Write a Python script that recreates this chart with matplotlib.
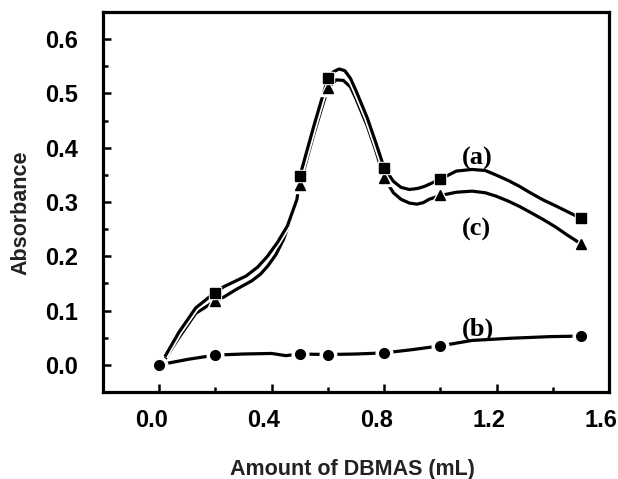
import matplotlib
matplotlib.use("Agg")
import matplotlib.pyplot as plt
import matplotlib.patheffects as pe
from matplotlib.ticker import MultipleLocator, FixedLocator
from matplotlib.transforms import ScaledTranslation

# Measured data points (amount of DBMAS, mL)
amount = [0.0, 0.2, 0.5, 0.6, 0.8, 1.0, 1.5]
abs_a = [0.0, 0.132, 0.348, 0.528, 0.363, 0.342, 0.270]
abs_b = [0.0, 0.018, 0.020, 0.019, 0.022, 0.035, 0.053]
abs_c = [0.0, 0.118, 0.332, 0.510, 0.345, 0.312, 0.223]

# Smoothed curves as drawn in the figure
curve_a_x = [0.02, 0.07, 0.13, 0.2, 0.23, 0.27, 0.31, 0.35, 0.385, 0.42, 0.456, 0.49, 0.5, 0.55, 0.6,
             0.62, 0.64, 0.66, 0.68, 0.7, 0.74, 0.77, 0.8, 0.833, 0.86, 0.89, 0.92, 0.945, 1.0, 1.057,
             1.113, 1.16, 1.197, 1.24, 1.281, 1.32, 1.365, 1.41, 1.449, 1.5]
curve_a_y = [0.015, 0.06, 0.105, 0.134, 0.144, 0.154, 0.164, 0.18, 0.2, 0.225, 0.256, 0.305, 0.347, 0.44, 0.528,
             0.54, 0.545, 0.542, 0.528, 0.505, 0.455, 0.41, 0.363, 0.338, 0.327, 0.323, 0.325, 0.329, 0.342, 0.357,
             0.36, 0.358, 0.35, 0.34, 0.329, 0.317, 0.304, 0.293, 0.283, 0.27]
curve_c_x = [0.02, 0.07, 0.13, 0.2, 0.23, 0.274, 0.33, 0.36, 0.386, 0.415, 0.442, 0.484, 0.5, 0.55, 0.6,
             0.63, 0.655, 0.68, 0.7, 0.74, 0.77, 0.8, 0.833, 0.86, 0.89, 0.917, 0.94, 0.96, 1.0, 1.057,
             1.113, 1.16, 1.197, 1.24, 1.281, 1.32, 1.365, 1.41, 1.449, 1.5]
curve_c_y = [0.01, 0.05, 0.095, 0.118, 0.125, 0.139, 0.155, 0.167, 0.182, 0.203, 0.231, 0.292, 0.332, 0.425, 0.51,
             0.525, 0.524, 0.512, 0.49, 0.44, 0.395, 0.345, 0.317, 0.305, 0.298, 0.296, 0.299, 0.305, 0.312, 0.318,
             0.32, 0.317, 0.311, 0.302, 0.292, 0.281, 0.268, 0.254, 0.24, 0.223]
curve_b_x = [0.0, 0.1, 0.2, 0.3, 0.4, 0.45, 0.5, 0.6, 0.7, 0.8, 0.9, 1.0, 1.113, 1.25, 1.39, 1.5]
curve_b_y = [0.0, 0.01, 0.018, 0.02, 0.021, 0.017, 0.02, 0.019, 0.02, 0.022, 0.028, 0.035, 0.045, 0.049, 0.052, 0.053]

labels = ["(a)", "(b)", "(c)"]
label_x = [1.13, 1.135, 1.13]
label_y = [0.38, 0.066, 0.25]

fig = plt.figure(figsize=(6.18, 4.79), dpi=100)
ax = fig.add_axes([103/618, 1-392/479, (609-103)/618, (392-12)/479])

lw = 2.3
stroke = [pe.Stroke(linewidth=lw + 2.5, foreground="white"), pe.Normal()]
for cx, cy in [(curve_c_x, curve_c_y), (curve_a_x, curve_a_y), (curve_b_x, curve_b_y)]:
    ax.plot(cx, cy, color="black", lw=lw, solid_joinstyle="round", solid_capstyle="butt",
            path_effects=stroke, zorder=2)

# white halos around markers (gaps in lines) then markers; (c) below (a), (b) on top
z = 3
for ys, m, ms, halo in [(abs_c, "^", 6.5, 4.5), (abs_a, "s", 6.5, 2.5), (abs_b, "o", 7, 5)]:
    ax.plot(amount, ys, linestyle="none", marker=m, ms=ms + halo, color="white", zorder=z)
    ax.plot(amount, ys, linestyle="none", marker=m, ms=ms, color="black", zorder=z + 0.5)
    z += 1

for t, x, y in zip(labels, label_x, label_y):
    ax.text(x, y, t, ha="center", va="center", fontsize=19, fontweight="bold",
            family="Liberation Serif", zorder=8)

ax.set_xlim(-0.2, 1.6)
ax.set_ylim(-0.05, 0.65)
ax.xaxis.set_major_locator(FixedLocator([0.0, 0.4, 0.8, 1.2, 1.6]))
ax.xaxis.set_minor_locator(FixedLocator([0.2, 0.6, 1.0, 1.4]))
ax.yaxis.set_major_locator(MultipleLocator(0.1))
ax.yaxis.set_minor_locator(MultipleLocator(0.05))
ax.set_xticklabels(["0.0", "0.4", "0.8", "1.2", "1.6"])
ax.set_yticklabels(["%.1f" % v for v in ax.get_yticks()])

ax.tick_params(which="both", direction="in", width=1.8, top=False, right=False)
ax.tick_params(which="major", length=6)
ax.tick_params(which="minor", length=3.5)
ax.tick_params(axis="x", pad=12)
ax.tick_params(axis="y", pad=18)
for lab in ax.get_xticklabels() + ax.get_yticklabels():
    lab.set_fontsize(17)
    lab.set_fontweight("bold")
    lab.set_family("Liberation Sans")
offset = ScaledTranslation(-8/100, 0, fig.dpi_scale_trans)
for lab in ax.get_xticklabels():
    lab.set_transform(lab.get_transform() + offset)

for s in ax.spines.values():
    s.set_linewidth(2.3)

fig.text(20.5/618, 1-213/479, "Absorbance", rotation=90, ha="center", va="center",
         fontsize=15.5, fontweight="bold", family="Liberation Sans", color="#222222")
fig.text(352/618, 1-470/479, "Amount of DBMAS (mL)", ha="center", va="center",
         fontsize=15.5, fontweight="bold", family="Liberation Sans", color="#222222")

fig.savefig("out.png", dpi=100)
